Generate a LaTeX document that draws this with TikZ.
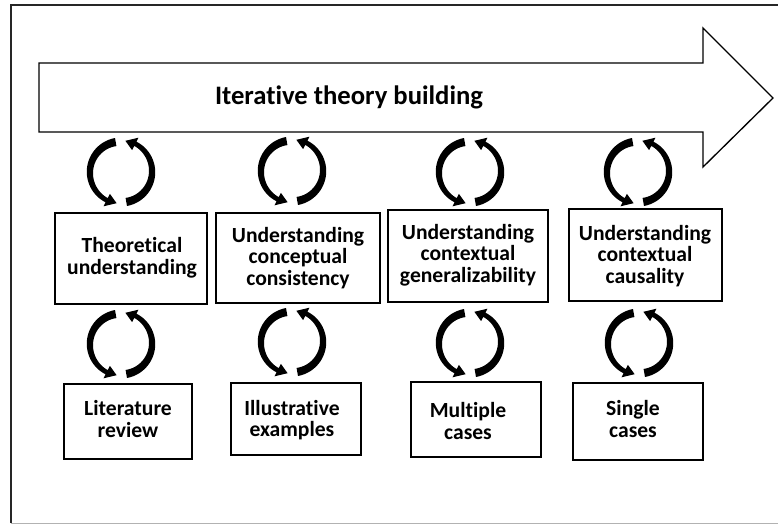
\documentclass[tikz,border=0pt]{standalone}
\usepackage{fontspec}
\setmainfont{Carlito}[Ligatures=NoCommon]
% one half of a circular "iterate" symbol: tapered arc with a triangular head
\newcommand\cycarc{%
  plot[domain=100:243,samples=40] ({(34.5-0.5*(\x-100)/143)*cos(\x)},{(34.5-0.5*(\x-100)/143)*sin(\x)})
  -- (243:38.5) -- (262:31.5) -- (243:24.5)
  -- plot[domain=243:100,samples=40] ({(26.3+3*(\x-100)/143)*cos(\x)},{(26.3+3*(\x-100)/143)*sin(\x)})
  -- cycle}
\begin{document}
\begin{tikzpicture}[x=0.75pt,y=-0.75pt,
  frame/.style={line width=1pt,draw=black!85},
  bigarrow/.style={draw,line width=1pt,fill=white,line join=miter},
  box/.style={draw,line width=1.1pt,rectangle,inner sep=0pt},
  lbl/.style={font=\bfseries\fontsize{16.2}{16.3}\selectfont,align=center,inner sep=0pt},
  ttl/.style={font=\bfseries\fontsize{20}{22}\selectfont,inner sep=0pt},
  cyc/.pic={
    \begin{scope}[yscale=-1]
      \fill[black] \cycarc;
      \fill[black,rotate=180] \cycarc;
    \end{scope}}]
\useasboundingbox (0,0) rectangle (778,524);

% surrounding frame
\draw[frame] (11,523) -- (11,5) -- (778,5);
\draw[line width=0.6pt,draw=black!30] (11,523) -- (778,523);

% block arrow carrying the title
\draw[bigarrow] (39,63) -- (703,63) -- (703,28) -- (773,98) -- (703,167) -- (703,132) -- (39,132) -- cycle;
\node[ttl] (title) at (349,97) {Iterative theory building};

% upper row of boxes
\node[box,minimum width=152*0.75pt,minimum height=91*0.75pt] (b1) at (131,258.5) {};
\node[box,minimum width=164*0.75pt,minimum height=90*0.75pt] (b2) at (298,258) {};
\node[box,minimum width=160*0.75pt,minimum height=92*0.75pt] (b3) at (468,256) {};
\node[box,minimum width=153*0.75pt,minimum height=92*0.75pt] (b4) at (645.5,255) {};
\node[lbl] (t1) at (132,258) {Theoretical\\understanding};
\node[lbl] (t2) at (298,258) {Understanding\\conceptual\\consistency};
\node[lbl] (t3) at (468,255) {Understanding\\contextual\\generalizability};
\node[lbl] (t4) at (645,256) {Understanding\\contextual\\causality};

% lower row of boxes
\node[box,minimum width=128*0.75pt,minimum height=75*0.75pt] (b5) at (128,421.5) {};
\node[box,minimum width=130*0.75pt,minimum height=72*0.75pt] (b6) at (296,419) {};
\node[box,minimum width=130*0.75pt,minimum height=75*0.75pt] (b7) at (476,419.5) {};
\node[box,minimum width=130*0.75pt,minimum height=77*0.75pt] (b8) at (638,421.5) {};
\node[lbl] (t5) at (128,419) {Literature\\review};
\node[lbl] (t6) at (292,420) {Illustrative\\examples};
\node[lbl] (t7) at (468,421) {Multiple\\cases};
\node[lbl] (t8) at (633,419) {Single\\cases};

% iteration symbols between the levels
\pic (c1) at (121,172) {cyc};
\pic (c2) at (292,171) {cyc};
\pic (c3) at (470,172) {cyc};
\pic (c4) at (638,172) {cyc};
\pic (c5) at (121,344) {cyc};
\pic (c6) at (292,342) {cyc};
\pic (c7) at (470,343) {cyc};
\pic (c8) at (639,343) {cyc};
\end{tikzpicture}
\end{document}
